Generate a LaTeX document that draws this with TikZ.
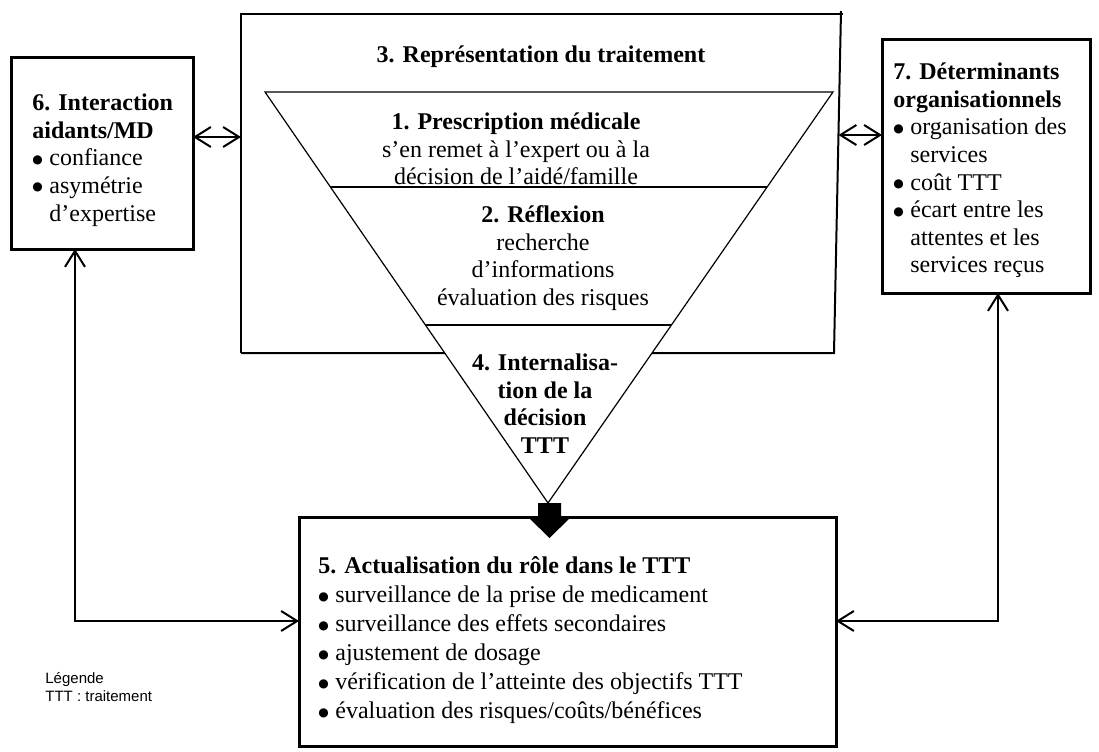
\documentclass[tikz,border=0pt]{standalone}
\usepackage{fontspec}
\setmainfont{Liberation Serif}
\newfontfamily\legendfont{Liberation Sans}
\newfontfamily\symfont{DejaVu Sans}
\usetikzlibrary{arrows.meta,calc}
\newcommand\bul{\makebox[8.5pt][l]{\raisebox{1.3pt}{\symfont\fontsize{6}{6}\selectfont ●}}}
\newcommand\ind{\hspace*{8.5pt}}
\begin{document}
\begin{tikzpicture}[x=0.5pt,y=-0.5pt,
  >={Straight Barb[length=8pt,width=10pt]},
  thickbox/.style={draw, line width=1.5pt, inner sep=0pt, outer sep=0pt, anchor=north west},
  txt/.style={inner sep=0pt, font=\fontsize{12}{13.8}\selectfont},
  conn/.style={line width=1pt, <->}]
\useasboundingbox (0,0) rectangle (1099,751);

% outer boxes
\node[thickbox, minimum width=91pt, minimum height=96pt] (box6) at (11,57) {};
\node[thickbox, minimum width=104pt, minimum height=127pt] (box7) at (882,39) {};
\node[thickbox, minimum width=268.5pt, minimum height=114.5pt] (box5) at (299,517) {};

% box 3 (representation)
\coordinate (b3tl) at (241,14);
\coordinate (b3tr) at (841,14);
\coordinate (b3br) at (834,353);
\coordinate (b3bl) at (241,353);
\draw[line width=1pt] (b3bl) -- (b3tl) -- (843,14);
\draw[line width=1pt] (841,11) -- (b3br) -- (b3bl);
\node[txt, anchor=base] (t3) at (541,62) {\textbf{3. Représentation du traitement}};

% triangle
\coordinate (ta) at (265,92);
\coordinate (tb) at (833,92);
\coordinate (tc) at (548,503);
\draw[line width=0.6pt, fill=white] (ta) -- (tb) -- (tc) -- cycle;
\draw[line width=1pt] ($(ta)!0.2311!(tc)$) -- ($(tb)!0.2311!(tc)$);
\draw[line width=1pt] ($(ta)!0.5669!(tc)$) -- ($(tb)!0.5669!(tc)$);

\node[txt, align=center, anchor=north] (g1) at (516,110)
  {\strut\textbf{1. Prescription médicale}\\s’en remet à l’expert ou à la\\décision de l’aidé/famille};
\node[txt, align=center, anchor=north] (g2) at (543,203)
  {\strut\textbf{2. Réflexion}\\recherche\\d’informations\\évaluation des risques};
\node[txt, align=center, anchor=north] (g4) at (545,351)
  {\strut\textbf{4. Internalisa-}\\\textbf{tion de la}\\\textbf{décision}\\\textbf{TTT}};

% black arrow
\fill (538,503) -- (561,503) -- (561,517) -- (571,517) -- (549.5,538) -- (528,517) -- (538,517) -- cycle;

% texts in boxes
\node[txt, align=left, anchor=north west] (t6) at (32,91)
  {\strut\textbf{6. Interaction}\\\textbf{aidants/MD}\\\bul confiance\\\bul asymétrie\\\ind d’expertise};
\node[txt, align=left, anchor=north west] (t7) at (893,60)
  {\strut\textbf{7. Déterminants}\\\textbf{organisationnels}\\\bul organisation des\\\ind services\\\bul coût TTT\\\bul écart entre les\\\ind attentes et les\\\ind services reçus};
\node[txt, align=left, anchor=north west, font=\fontsize{12}{14.5}\selectfont] (t5) at (318,553)
  {\strut\textbf{5. Actualisation du rôle dans le TTT}\\\bul surveillance de la prise de medicament\\\bul surveillance des effets secondaires\\\bul ajustement de dosage\\\bul vérification de l’atteinte des objectifs TTT\\\bul évaluation des risques/coûts/bénéfices};

% legend
\node[inner sep=0pt, anchor=north west, align=left, font=\legendfont\fontsize{7.5}{9}\selectfont] (legend) at (45,670)
  {\strut Légende\\TTT : traitement};

% connectors
\coordinate (l137) at (0,137);
\coordinate (b3l) at (241,137);
\coordinate (b3r) at (838.5,135);
\draw[conn] (box6.east |- l137) -- (b3l);
\draw[conn] (b3r) -- (box7.west |- b3r);
\coordinate (lc) at (75,621);
\coordinate (rc) at (998,621);
\draw[conn] (box6.south -| lc) -- (lc) -- (box5.west |- lc);
\draw[conn] (box7.south -| rc) -- (rc) -- (box5.east |- rc);
\end{tikzpicture}
\end{document}
